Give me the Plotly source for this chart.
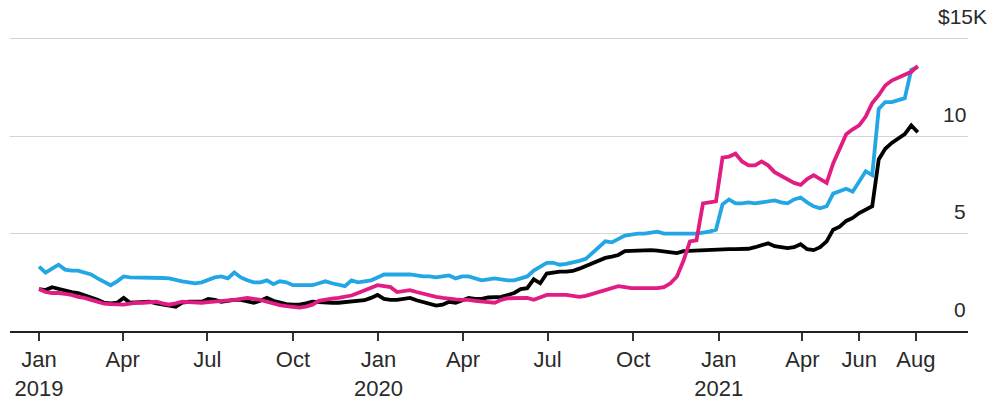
import pandas as pd
import plotly.graph_objects as go

# Weekly observations, Jan 1 2019 -> Aug 3 2021 (values in $K)
start_date = "2019-01-01"
n_weeks = 136
dates = pd.date_range(start_date, periods=n_weeks, freq="7D")

cyan_values = [
    3.3, 3.0, 3.2, 3.4, 3.15, 3.1, 3.1, 3.0, 2.9, 2.7,
    2.5, 2.35, 2.55, 2.8, 2.75, 2.75, 2.75, 2.75, 2.75, 2.72,
    2.7, 2.6, 2.55, 2.5, 2.45, 2.5, 2.65, 2.75, 2.8, 2.7,
    3.0, 2.75, 2.6, 2.5, 2.5, 2.6, 2.4, 2.55, 2.5, 2.35,
    2.35, 2.35, 2.35, 2.45, 2.55, 2.45, 2.35, 2.3, 2.6, 2.5,
    2.55, 2.6, 2.75, 2.9, 2.9, 2.9, 2.9, 2.9, 2.85, 2.8,
    2.8, 2.75, 2.8, 2.85, 2.7, 2.8, 2.8, 2.7, 2.6, 2.65,
    2.7, 2.65, 2.6, 2.6, 2.7, 2.8, 3.1, 3.3, 3.5, 3.5,
    3.4, 3.45, 3.5, 3.6, 3.7, 4.0, 4.35, 4.6, 4.55, 4.75,
    4.9, 4.95, 5.0, 5.0, 5.05, 5.1, 5.0, 5.0, 5.0, 5.0,
    5.0, 5.0, 5.05, 5.1, 5.2, 6.5, 6.75, 6.55, 6.55, 6.6,
    6.55, 6.6, 6.65, 6.7, 6.6, 6.55, 6.75, 6.85, 6.6, 6.4,
    6.3, 6.4, 7.05, 7.15, 7.3, 7.15, 7.7, 8.2, 8.0, 11.4,
    11.75, 11.75, 11.85, 11.95, 13.4, 13.55,
]

magenta_values = [
    2.15, 2.0, 1.95, 1.95, 1.9, 1.85, 1.75, 1.7, 1.6, 1.5,
    1.4, 1.38, 1.35, 1.35, 1.4, 1.45, 1.45, 1.48, 1.5, 1.42,
    1.35, 1.42, 1.5, 1.48, 1.45, 1.45, 1.48, 1.5, 1.52, 1.55,
    1.6, 1.65, 1.7, 1.65, 1.6, 1.5, 1.4, 1.33, 1.28, 1.22,
    1.2, 1.25, 1.35, 1.55, 1.62, 1.66, 1.7, 1.75, 1.82, 1.95,
    2.1, 2.25, 2.35, 2.3, 2.25, 2.0, 2.05, 2.1, 2.0, 1.9,
    1.82, 1.75, 1.7, 1.65, 1.62, 1.6, 1.6, 1.55, 1.5, 1.48,
    1.45, 1.6, 1.68, 1.7, 1.7, 1.7, 1.6, 1.75, 1.85, 1.85,
    1.85, 1.85, 1.8, 1.75, 1.8, 1.9, 1.95, 2.05, 2.15, 2.3,
    2.25, 2.2, 2.2, 2.2, 2.2, 2.2, 2.25, 2.45, 2.8, 3.6,
    4.6, 4.65, 6.55, 6.6, 6.65, 8.9, 8.95, 9.1, 8.7, 8.5,
    8.5, 8.7, 8.5, 8.15, 7.95, 7.75, 7.6, 7.5, 7.8, 8.0,
    7.8, 7.6, 8.6, 9.4, 10.1, 10.35, 10.55, 11.0, 11.7, 12.1,
    12.6, 12.85, 13.0, 13.1, 13.3, 13.6,
]

black_values = [
    2.15, 2.1, 2.25, 2.15, 2.05, 2.0, 1.95, 1.85, 1.7, 1.6,
    1.45, 1.42, 1.45, 1.7, 1.45, 1.48, 1.5, 1.5, 1.42, 1.35,
    1.3, 1.25, 1.45, 1.5, 1.5, 1.5, 1.65, 1.6, 1.5, 1.55,
    1.6, 1.6, 1.5, 1.45, 1.55, 1.7, 1.55, 1.45, 1.38, 1.35,
    1.35, 1.42, 1.5, 1.48, 1.45, 1.45, 1.45, 1.48, 1.5, 1.52,
    1.58, 1.7, 1.85, 1.65, 1.6, 1.6, 1.65, 1.7, 1.58, 1.5,
    1.4, 1.3, 1.35, 1.5, 1.45, 1.6, 1.7, 1.65, 1.65, 1.72,
    1.75, 1.75, 1.85, 1.95, 2.15, 2.2, 2.65, 2.45, 2.95, 3.0,
    3.05, 3.05, 3.08, 3.2, 3.35, 3.5, 3.6, 3.75, 3.82, 3.9,
    4.1, 4.12, 4.15, 4.15, 4.15, 4.12, 4.08, 4.05, 4.0, 4.1,
    4.12, 4.1, 4.12, 4.15, 4.2, 4.2, 4.2, 4.2, 4.2, 4.22,
    4.3, 4.4, 4.5, 4.35, 4.3, 4.25, 4.3, 4.45, 4.2, 4.15,
    4.3, 4.6, 5.2, 5.35, 5.65, 5.8, 6.05, 6.25, 6.4, 8.8,
    9.35, 9.65, 9.85, 10.1, 10.55, 10.2,
]

tick_dates = ["2019-01-01", "2019-04-01", "2019-07-01", "2019-10-01",
              "2020-01-01", "2020-04-01", "2020-07-01", "2020-10-01",
              "2021-01-01", "2021-04-01", "2021-06-01", "2021-08-01"]
tick_labels = ["Jan<br>2019", "Apr", "Jul", "Oct",
               "Jan<br>2020", "Apr", "Jul", "Oct",
               "Jan<br>2021", "Apr", "Jun", "Aug"]

y_ticks = [0, 5, 10, 15]
y_labels = ["0", "5", "10", "$15K"]

CYAN = "#22A6E4"
MAGENTA = "#E11C82"
BLACK = "#000000"
FONT = "Liberation Sans"
TEXT = "#2a2a2a"

fig = go.Figure()
for vals, col in [(cyan_values, CYAN), (black_values, BLACK), (magenta_values, MAGENTA)]:
    fig.add_trace(go.Scatter(x=dates, y=vals, mode="lines",
                             line=dict(color=col, width=3.8), hoverinfo="skip"))

fig.update_layout(
    width=990, height=404,
    margin=dict(l=10, r=22, t=27, b=73),
    paper_bgcolor="white", plot_bgcolor="white",
    showlegend=False,
    font=dict(family=FONT, size=22, color=TEXT),
)
fig.update_xaxes(
    range=["2018-11-30 19:00", "2021-09-26"],
    tickmode="array", tickvals=tick_dates, ticktext=tick_labels,
    showgrid=False, zeroline=False, automargin=False,
    showline=True, linecolor="#222222", linewidth=1.5,
    ticks="outside", ticklen=8, tickwidth=1.5, tickcolor="#333333",
    ticklabelstandoff=0,
    tickfont=dict(family=FONT, size=22, color=TEXT),
)
fig.update_yaxes(
    range=[0, 15.6], automargin=False,
    tickmode="array", tickvals=y_ticks, showticklabels=False,
    showgrid=True, gridcolor="#d4d4d4", gridwidth=1,
    zeroline=False, showline=False,
)

for v, lab in zip(y_ticks, y_labels):
    is_top = lab.startswith("$")
    fig.add_annotation(
        x=1, xref="paper", y=v, yref="y",
        text=lab, showarrow=False,
        xanchor="left" if is_top else "right", yanchor="middle",
        xshift=-32 if is_top else 0, yshift=22,
        font=dict(family=FONT, size=21, color=TEXT),
    )

fig.write_html(
    "out.html",
    config={"displayModeBar": False},
    post_script="document.body.style.margin='0';document.body.style.overflow='hidden';",
)
